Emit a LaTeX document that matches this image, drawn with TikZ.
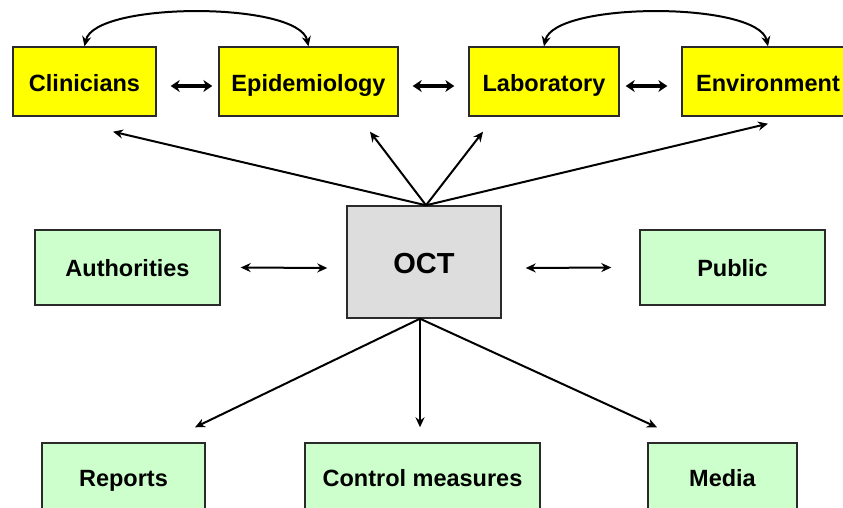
\documentclass[tikz,border=0pt]{standalone}
\usepackage{fontspec}
\setmainfont{Liberation Sans}
\usetikzlibrary{arrows.meta}
\definecolor{boxyellow}{HTML}{FFFF00}
\definecolor{boxgreen}{HTML}{CCFFCC}
\definecolor{boxgray}{HTML}{DDDDDD}
\definecolor{edgecol}{HTML}{2A2A2A}
\tikzset{
  box/.style={draw=edgecol, line width=1.4pt, inner sep=0pt, anchor=center,
    text height=21pt, text depth=0pt,
    font=\fontsize{23.5}{27}\selectfont\bfseries},
  ybox/.style={box, fill=boxyellow, minimum height=69pt},
  gbox/.style={box, fill=boxgreen, minimum height=75pt, text depth=4pt},
  bbox/.style={gbox, text depth=10pt},
  obox/.style={box, fill=boxgray, text height=22pt, font=\fontsize{29}{33}\selectfont\bfseries},
  thinarr/.style={line width=2pt, -{Stealth[length=10pt,width=9pt]}},
  thinboth/.style={line width=2pt, {Stealth[length=10pt,width=9pt]}-{Stealth[length=10pt,width=9pt]}},
  thickboth/.style={line width=3.6pt, {Stealth[length=9pt,width=12pt]}-{Stealth[length=9pt,width=12pt]}},
}
\begin{document}
\begin{tikzpicture}[x=1pt, y=-1pt]
\useasboundingbox (0,0) rectangle (843,508);
\clip (0,0) rectangle (843,508);
% top row
\node[ybox, minimum width=143pt] (clin) at (84.5,81.5) {Clinicians};
\node[ybox, minimum width=179pt] (epi) at (308.5,81.5) {Epidemiology};
\node[ybox, minimum width=150pt] (lab) at (544,81.5) {Laboratory};
\node[ybox, minimum width=172pt] (env) at (768,81.5) {Environment};
% middle row
\node[gbox, minimum width=185pt] (auth) at (127.5,267.5) {Authorities};
\node[obox, minimum width=154pt, minimum height=112pt] (oct) at (424,262) {OCT};
\node[gbox, minimum width=185pt] (pub) at (732.5,267.5) {Public};
% bottom row
\node[bbox, minimum width=163pt] (rep) at (123.5,480.5) {Reports};
\node[bbox, minimum width=235pt] (ctrl) at (422.5,480.5) {Control measures};
\node[bbox, minimum width=149pt] (media) at (722.5,480.5) {Media};

% curved arrows on top
\draw[thinboth] (clin.north) .. controls +(10,-45) and +(-10,-45) .. (epi.north);
\draw[thinboth] (lab.north) .. controls +(10,-45) and +(-10,-45) .. (env.north);

% thick horizontal arrows
\draw[thickboth] ([shift={(14,4.5)}]clin.east) -- ([shift={(-6,4.5)}]epi.west);
\draw[thickboth] ([shift={(14,4.5)}]epi.east) -- ([shift={(-14,4.5)}]lab.west);
\draw[thickboth] ([shift={(6,4.5)}]lab.east) -- ([shift={(-14,4.5)}]env.west);

% OCT to top row
\coordinate (top) at ([xshift=2pt]oct.north);
\draw[thinarr] (top) -- ([shift={(28.5,15)}]clin.south);
\draw[thinarr] (top) -- ([shift={(61.5,15)}]epi.south);
\draw[thinarr] (top) -- ([shift={(-61,15)}]lab.south);
\draw[thinarr] (top) -- ([shift={(0,7)}]env.south);

% side arrows
\draw[thinboth] ([xshift=20pt]auth.east) -- ([shift={(-19,6)}]oct.west);
\draw[thinboth] ([shift={(24,6)}]oct.east) -- ([xshift=-28pt]pub.west);

% OCT to bottom row
\coordinate (bot) at ([xshift=-4pt]oct.south);
\coordinate (repend) at ([shift={(71.5,-15)}]rep.north);
\coordinate (ctrlend) at ([shift={(-2.5,-15)}]ctrl.north);
\coordinate (mediaend) at ([shift={(-65.5,-15)}]media.north);
\draw[thinarr] (bot) -- (repend);
\draw[thinarr] (bot) -- (ctrlend);
\draw[thinarr] (bot) -- (mediaend);
\end{tikzpicture}
\end{document}
